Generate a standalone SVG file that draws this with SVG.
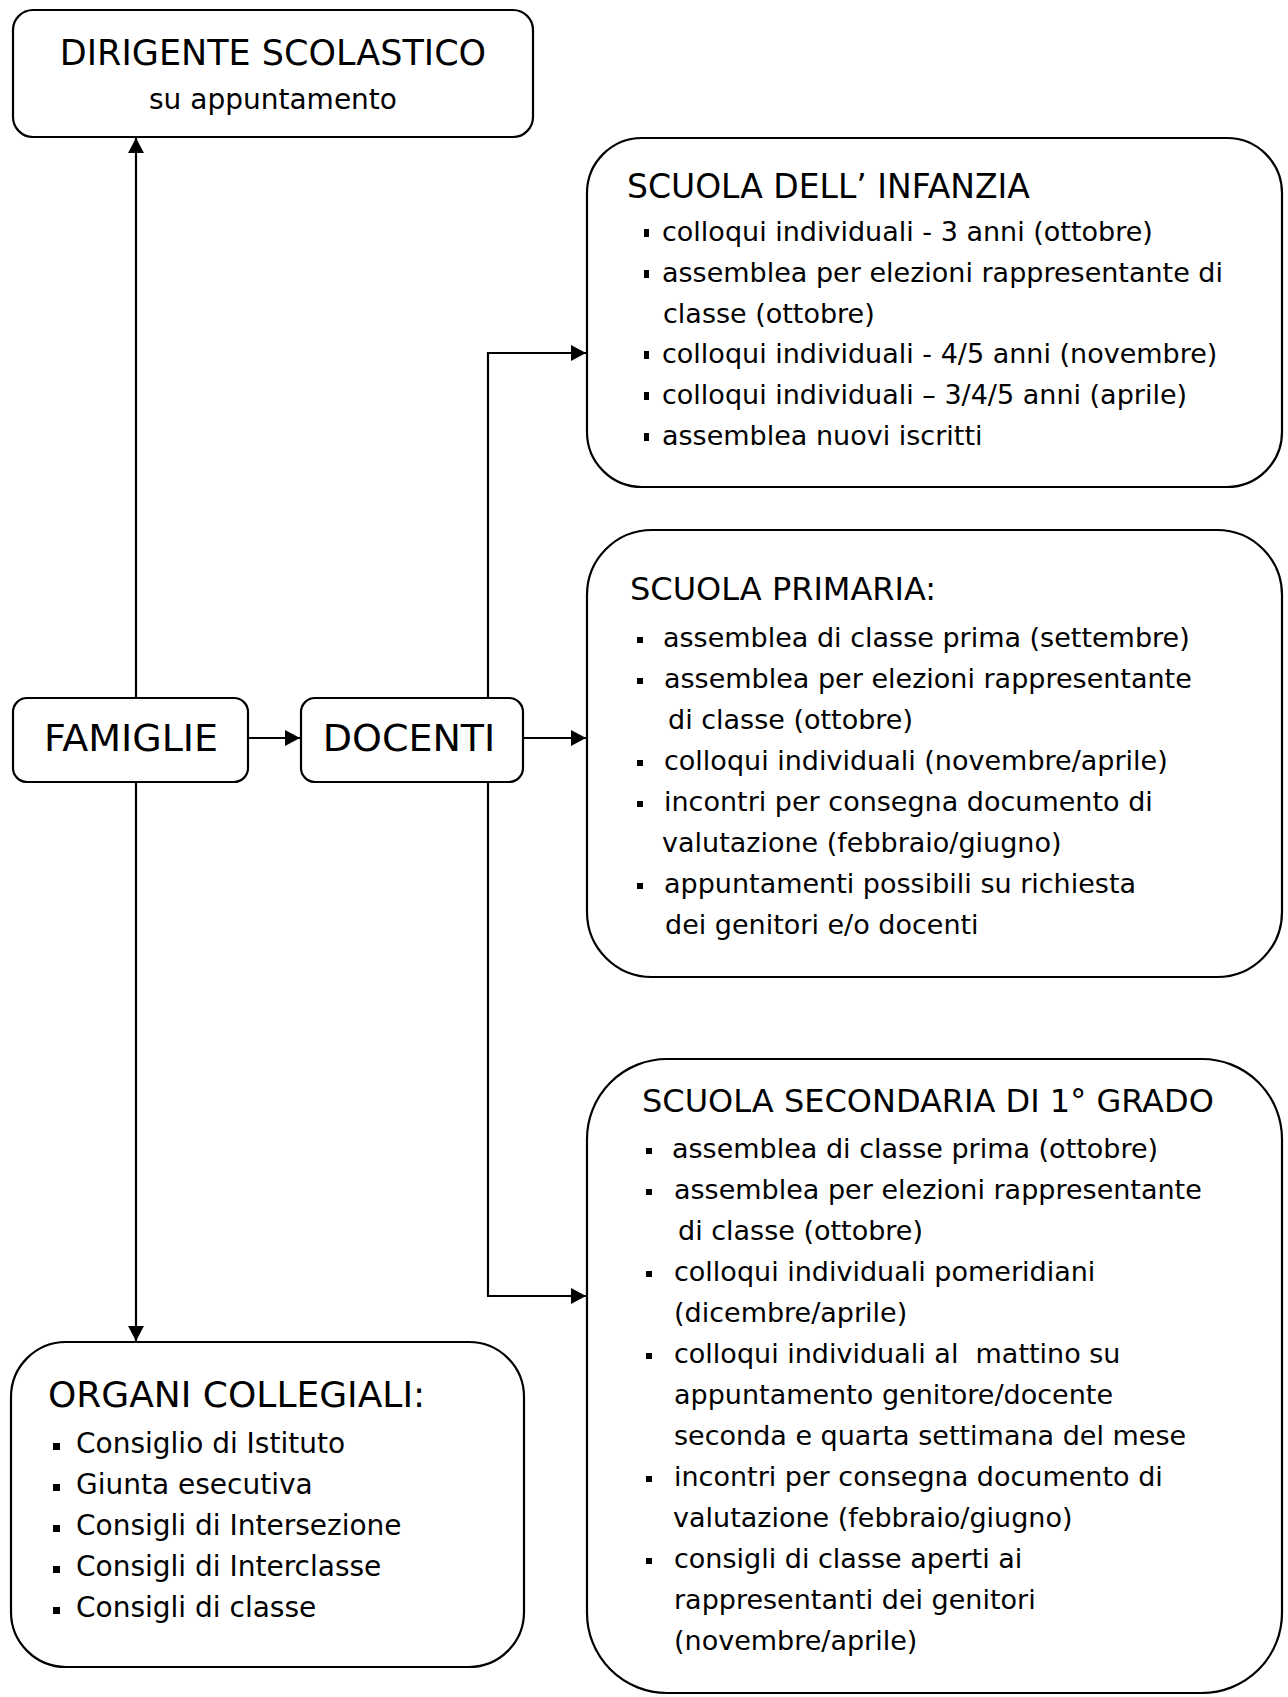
<svg xmlns="http://www.w3.org/2000/svg" width="1288" height="1697" viewBox="0 0 1288 1697">
<style>
  .box{fill:#fff;stroke:#000;stroke-width:2.2}
  .ln{fill:none;stroke:#000;stroke-width:2.2}
  text{font-family:"DejaVu Sans","Noto Sans",sans-serif;fill:#000}
  .t1{font-size:35px}
  .big{font-size:38px}
  .hd{font-size:32px}
  .hd1{font-size:33px}
  .hd2{font-size:36px}
  .it{font-size:27px}
  .it2{font-size:28px}
  .b{fill:#000}
</style>
<defs>
  <marker id="arr" viewBox="0 0 15 16" refX="15" refY="8" markerWidth="15" markerHeight="16" markerUnits="userSpaceOnUse" orient="auto">
    <path d="M0,0 L15,8 L0,16 Z" fill="#000"/>
  </marker>
</defs>

<g id="connectors">
  <line class="ln" x1="136" y1="698" x2="136" y2="138" marker-end="url(#arr)"/>
  <line class="ln" x1="136" y1="782" x2="136" y2="1341" marker-end="url(#arr)"/>
  <line class="ln" x1="248" y1="738" x2="300" y2="738" marker-end="url(#arr)"/>
  <line class="ln" x1="523" y1="738" x2="586" y2="738" marker-end="url(#arr)"/>
  <polyline class="ln" points="488,1296 488,353"/>
  <line class="ln" x1="487" y1="353" x2="586" y2="353" marker-end="url(#arr)"/>
  <line class="ln" x1="487" y1="1296" x2="586" y2="1296" marker-end="url(#arr)"/>
</g>

<g id="dirigente">
  <rect class="box" x="13" y="10" width="520" height="127" rx="20"/>
  <text class="t1" x="273" y="65" text-anchor="middle">DIRIGENTE SCOLASTICO</text>
  <text class="it2" x="273" y="109" text-anchor="middle">su appuntamento</text>
</g>

<g id="famiglie">
  <rect class="box" x="13" y="698" width="235" height="84" rx="14"/>
  <text class="big" x="131" y="751" text-anchor="middle">FAMIGLIE</text>
</g>

<g id="docenti">
  <rect class="box" x="301" y="698" width="222" height="84" rx="14"/>
  <text class="big" x="409" y="751" text-anchor="middle">DOCENTI</text>
</g>

<g id="infanzia">
  <rect class="box" x="587" y="138" width="695" height="349" rx="55"/>
  <text class="hd1" x="627" y="198">SCUOLA DELL’ INFANZIA</text>
  <rect class="b" x="644" y="229" width="5" height="8"/>
  <text class="it" x="662" y="241">colloqui individuali - 3 anni (ottobre)</text>
  <rect class="b" x="644" y="270" width="5" height="8"/>
  <text class="it" x="662" y="282">assemblea per elezioni rappresentante di</text>
  <text class="it" x="663" y="323">classe (ottobre)</text>
  <rect class="b" x="644" y="351" width="5" height="8"/>
  <text class="it" x="662" y="363">colloqui individuali - 4/5 anni (novembre)</text>
  <rect class="b" x="644" y="392" width="5" height="8"/>
  <text class="it" x="662" y="404">colloqui individuali – 3/4/5 anni (aprile)</text>
  <rect class="b" x="644" y="433" width="5" height="8"/>
  <text class="it" x="662" y="445">assemblea nuovi iscritti</text>
</g>

<g id="primaria">
  <rect class="box" x="587" y="530" width="695" height="447" rx="65"/>
  <text class="hd" x="630" y="600">SCUOLA PRIMARIA:</text>
  <rect class="b" x="637" y="637" width="6" height="6"/>
  <text class="it" x="663" y="647">assemblea di classe prima (settembre)</text>
  <rect class="b" x="637" y="678" width="6" height="6"/>
  <text class="it" x="664" y="688">assemblea per elezioni rappresentante</text>
  <text class="it" x="668" y="729">di classe (ottobre)</text>
  <rect class="b" x="637" y="760" width="6" height="6"/>
  <text class="it" x="664" y="770">colloqui individuali (novembre/aprile)</text>
  <rect class="b" x="637" y="801" width="6" height="6"/>
  <text class="it" x="664" y="811">incontri per consegna documento di</text>
  <text class="it" x="662" y="852">valutazione (febbraio/giugno)</text>
  <rect class="b" x="637" y="883" width="6" height="6"/>
  <text class="it" x="664" y="893">appuntamenti possibili su richiesta</text>
  <text class="it" x="665" y="934">dei genitori e/o docenti</text>
</g>

<g id="secondaria">
  <rect class="box" x="587" y="1059" width="695" height="634" rx="80"/>
  <text class="hd" x="642" y="1112">SCUOLA SECONDARIA DI 1° GRADO</text>
  <rect class="b" x="646" y="1148" width="6" height="6"/>
  <text class="it" x="672" y="1158">assemblea di classe prima (ottobre)</text>
  <rect class="b" x="646" y="1189" width="6" height="6"/>
  <text class="it" x="674" y="1199">assemblea per elezioni rappresentante</text>
  <text class="it" x="678" y="1240">di classe (ottobre)</text>
  <rect class="b" x="646" y="1271" width="6" height="6"/>
  <text class="it" x="674" y="1281">colloqui individuali pomeridiani</text>
  <text class="it" x="674" y="1322">(dicembre/aprile)</text>
  <rect class="b" x="646" y="1353" width="6" height="6"/>
  <text class="it" x="674" y="1363" style="white-space:pre">colloqui individuali al  mattino su</text>
  <text class="it" x="674" y="1404">appuntamento genitore/docente</text>
  <text class="it" x="674" y="1445">seconda e quarta settimana del mese</text>
  <rect class="b" x="646" y="1476" width="6" height="6"/>
  <text class="it" x="674" y="1486">incontri per consegna documento di</text>
  <text class="it" x="673" y="1527">valutazione (febbraio/giugno)</text>
  <rect class="b" x="646" y="1558" width="6" height="6"/>
  <text class="it" x="674" y="1568">consigli di classe aperti ai</text>
  <text class="it" x="674" y="1609">rappresentanti dei genitori</text>
  <text class="it" x="674" y="1650">(novembre/aprile)</text>
</g>

<g id="organi">
  <rect class="box" x="11" y="1342" width="513" height="325" rx="55"/>
  <text class="hd2" x="48" y="1407">ORGANI COLLEGIALI:</text>
  <rect class="b" x="53" y="1443" width="7" height="7"/>
  <text class="it2" x="76" y="1453">Consiglio di Istituto</text>
  <rect class="b" x="53" y="1484" width="7" height="7"/>
  <text class="it2" x="76" y="1494">Giunta esecutiva</text>
  <rect class="b" x="53" y="1525" width="7" height="7"/>
  <text class="it2" x="76" y="1535">Consigli di Intersezione</text>
  <rect class="b" x="53" y="1566" width="7" height="7"/>
  <text class="it2" x="76" y="1576">Consigli di Interclasse</text>
  <rect class="b" x="53" y="1607" width="7" height="7"/>
  <text class="it2" x="76" y="1617">Consigli di classe</text>
</g>
</svg>
